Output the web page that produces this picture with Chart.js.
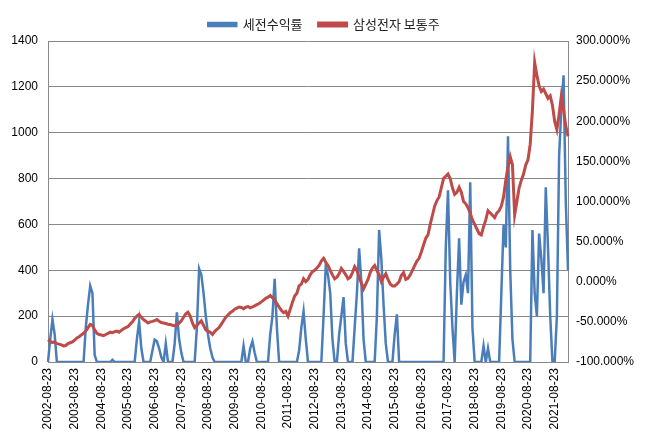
<!DOCTYPE html>
<html><head><meta charset="utf-8">
<script src="https://cdn.jsdelivr.net/npm/chart.js@4/dist/chart.umd.min.js"></script>
<style>html,body{margin:0;padding:0;background:#fff}#w{width:648px;height:441px}</style>
</head><body><div id="w"><canvas id="c"></canvas></div>
<script>
const startYear = 2002, startMonth = 8;
const seriesNames = ['세전수익률', '삼성전자 보통주'];
const yTicks = [0,200,400,600,800,1000,1200,1400];
const y2Ticks = [-100,-50,0,50,100,150,200,250,300];
const samsung = [
97,90,85,88,80,78,75,70,72,80,84,88,
95,105,110,118,125,135,150,164,160,140,125,120,
118,115,120,125,130,128,132,135,130,138,145,150,
155,165,175,190,200,208,195,185,178,170,175,177,
180,185,178,172,170,168,165,164,160,158,162,170,
180,195,210,217,200,170,150,160,170,180,160,140,
135,130,120,133,142,150,165,180,195,205,215,221,
230,235,240,238,232,239,242,236,240,245,250,255,
262,270,278,283,290,280,270,255,240,225,215,221,
200,230,260,288,300,332,340,363,350,360,380,394,
400,410,421,440,452,435,421,400,380,363,370,385,
408,395,380,363,370,390,416,400,370,345,319,340,
360,390,410,421,400,380,350,370,385,360,340,332,
332,340,350,377,390,360,365,380,400,420,440,452,
480,510,540,554,600,640,680,704,720,760,800,810,
820,800,760,731,740,762,740,700,690,673,650,620,
600,580,560,554,590,620,660,650,640,630,650,660,
680,720,793,850,895,860,642,700,760,793,820,860,
882,950,1100,1307,1250,1205,1180,1190,1170,1150,1161,1120,
1050,1014,1080,1161,1100,1030,984];
const pretaxReturn = [
0,100,186,120,0,0,0,0,0,0,0,0,
0,0,0,0,0,150,250,332,300,30,0,0,
0,0,0,0,0,10,0,0,0,0,0,0,
0,0,0,0,100,177,60,0,0,0,0,50,
97,90,60,20,0,80,0,0,0,80,217,100,
40,0,0,0,0,0,0,150,407,380,300,200,
120,60,20,0,0,0,0,0,0,0,0,0,
0,0,0,0,70,0,0,60,90,40,0,0,
0,0,0,0,120,200,363,150,0,0,0,0,
0,0,0,0,0,50,150,221,100,0,0,0,
0,0,0,0,200,421,380,300,100,0,0,120,
200,283,80,0,0,0,150,300,496,350,100,0,
0,0,0,0,200,576,450,250,80,0,0,0,
120,208,0,0,0,0,0,0,0,0,0,0,
0,0,0,0,0,0,0,0,0,0,0,500,
749,350,150,0,300,540,250,350,380,300,784,150,
0,0,0,0,70,0,60,0,0,0,0,0,
300,598,500,984,400,100,0,0,0,0,0,0,
0,0,576,300,200,560,450,300,762,500,200,0,
0,200,900,1100,1250,700,400];
const labels = samsung.map((_, i) => {
  const t = startYear*12 + (startMonth-1) + i;
  const y = Math.floor(t/12), m = t%12 + 1;
  return y + '-' + String(m).padStart(2,'0') + '-23';
});
const tickFont = {family:'Liberation Sans', size:12};
new Chart(document.getElementById('c'), {
  type:'line',
  data:{labels, datasets:[
    {label:seriesNames[0], data:pretaxReturn, borderColor:'#4a7ebb', backgroundColor:'#4a7ebb', borderWidth:2.5, pointRadius:0, tension:0, yAxisID:'y', order:2},
    {label:seriesNames[1], data:samsung, borderColor:'#be4b48', backgroundColor:'#be4b48', borderWidth:3, pointRadius:0, tension:0, yAxisID:'y', order:1}
  ]},
  options:{
    responsive:true, maintainAspectRatio:false, animation:false,
    layout:{padding:{top:2,left:0,right:0,bottom:0}},
    plugins:{
      legend:{position:'top', labels:{font:{family:'Noto Sans CJK KR', size:13}, color:'#222', boxWidth:28, boxHeight:3, padding:16,
        sort:(a,b)=>a.datasetIndex-b.datasetIndex}},
      tooltip:{enabled:false}
    },
    scales:{
      x:{type:'category', offset:false,
        grid:{display:false, drawTicks:true, tickLength:4, color:'#888'},
        border:{color:'#888'},
        ticks:{autoSkip:false, maxRotation:90, minRotation:90, font:tickFont, color:'#000', padding:2,
          callback:function(v,i){ const l=labels[i]; return l.slice(5,7)==='08' ? l : null; }},
        afterFit:s=>{s.height=79;}
      },
      y:{position:'left', min:0, max:1400,
        afterBuildTicks:s=>{s.ticks=yTicks.map(v=>({value:v}));},
        grid:{color:'#888', drawTicks:false}, border:{color:'#888'},
        ticks:{font:tickFont, color:'#000', padding:10, callback:v=>String(v)},
        afterFit:s=>{s.width=48;}
      },
      y2:{position:'right', min:-100, max:300,
        afterBuildTicks:s=>{s.ticks=y2Ticks.map(v=>({value:v}));},
        grid:{display:false, drawTicks:true, tickLength:4, color:'#888'}, border:{color:'#888'},
        ticks:{font:tickFont, color:'#000', padding:4, callback:v=>v.toFixed(3)+'%'},
        afterFit:s=>{s.width=80;}
      }
    }
  }
});
</script></body></html>
